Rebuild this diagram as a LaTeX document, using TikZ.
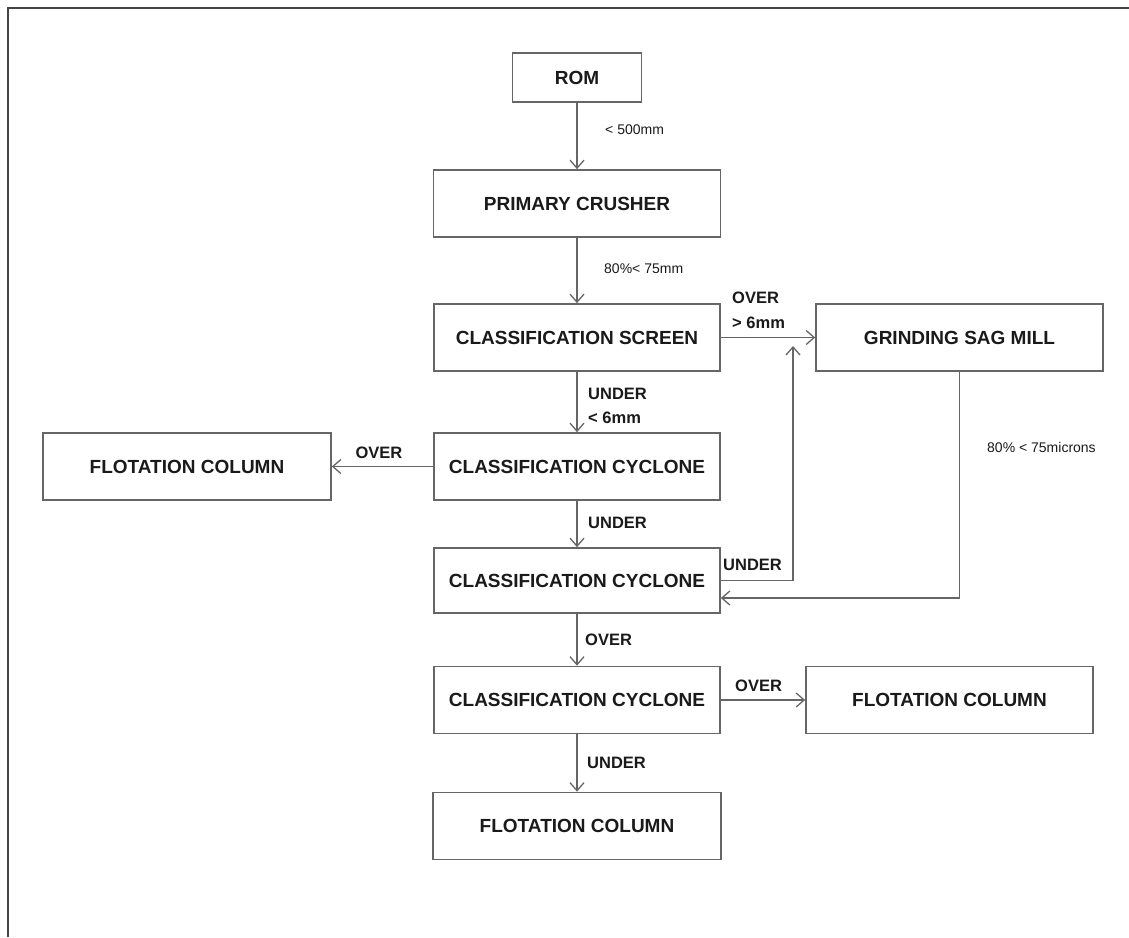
\documentclass[tikz,border=0pt]{standalone}
\usepackage{fontspec}
\setmainfont{Liberation Sans}
\usetikzlibrary{arrows.meta,calc}
\definecolor{linegray}{HTML}{666666}
\definecolor{textdark}{HTML}{1A1A1A}
\definecolor{framegray}{HTML}{454545}
\tikzset{
  box/.style={draw=linegray, line width=1.7pt, fill=white, minimum height=67pt, minimum width=286pt,
    inner sep=0pt, text=textdark, font=\fontsize{19}{21}\selectfont\bfseries},
  flow/.style={draw=linegray, line width=1.5pt, -{Straight Barb[length=8pt,width=14pt,line width=1.3pt]}},
  blab/.style={text=textdark, inner sep=0pt, font=\fontsize{16.5}{18}\selectfont\bfseries},
  slab/.style={text=textdark, inner sep=0pt, font=\fontsize{14}{16}\selectfont, anchor=west}
}
\begin{document}
\begin{tikzpicture}[x=1pt,y=-1pt]
\useasboundingbox (0,0) rectangle (1129,937);
\fill[white] (0,0) rectangle (1129,937);
\draw[framegray, line width=2.4pt] (8,937) -- (8,8) -- (1129,8);

% boxes
\node[box, minimum width=129pt, minimum height=49pt] (rom) at (577,77.5) {ROM};
\node[box, minimum width=287pt] (crusher) at (577,203.5) {PRIMARY CRUSHER};
\node[box] (screen) at (577,337.5) {CLASSIFICATION SCREEN};
\node[box, minimum width=287pt] (sag) at (959.5,337.5) {GRINDING SAG MILL};
\node[box] (cyc1) at (577,466.5) {CLASSIFICATION CYCLONE};
\node[box, minimum width=288pt] (flotL) at (187,466.5) {FLOTATION COLUMN};
\node[box, minimum height=65pt] (cyc2) at (577,580.5) {CLASSIFICATION CYCLONE};
\node[box] (cyc3) at (577,700) {CLASSIFICATION CYCLONE};
\node[box, minimum width=287pt] (flotR) at (949.5,700) {FLOTATION COLUMN};
\node[box, minimum width=288pt] (flotB) at (577,826) {FLOTATION COLUMN};

% vertical flow
\draw[flow] (rom.south) -- (crusher.north);
\draw[flow] (crusher.south) -- (screen.north);
\draw[flow] (screen.south) -- (cyc1.north);
\draw[flow] (cyc1.south) -- (cyc2.north);
\draw[flow] (cyc2.south) -- (cyc3.north);
\draw[flow] (cyc3.south) -- (flotB.north);

% horizontal flow
\draw[flow] (screen.east) -- (sag.west);
\draw[flow] (cyc1.west) -- (flotL.east);
\draw[flow] (cyc3.east) -- (flotR.west);

% recycle loops
\coordinate (upend) at (793,346);
\draw[flow] (cyc2.east) -| (upend);
\coordinate (ret) at ($(cyc2.east)+(0,17.5)$);
\draw[flow] (sag.south) |- (ret);

% labels
\node[slab] (l500) at (605,130) {< 500mm};
\node[slab] (l75) at (604,269) {80\%< 75mm};
\node[blab, anchor=west] (lover1) at (732,298) {OVER};
\node[blab, anchor=west] (lgt6) at (732,323) {> 6mm};
\node[blab, anchor=west] (lunder1) at (588,394) {UNDER};
\node[blab, anchor=west] (llt6) at (588,418) {< 6mm};
\node[blab] (loverL) at (379,453) {OVER};
\node[blab, anchor=west] (lunder2) at (588,523) {UNDER};
\node[blab, anchor=west] (lunderR) at (723,565) {UNDER};
\node[slab] (lmic) at (987,447) {80\% < 75microns};
\node[blab, anchor=west] (lover2) at (585,640) {OVER};
\node[blab, anchor=west] (lover3) at (735,686) {OVER};
\node[blab, anchor=west] (lunder3) at (587,763) {UNDER};
\end{tikzpicture}
\end{document}
